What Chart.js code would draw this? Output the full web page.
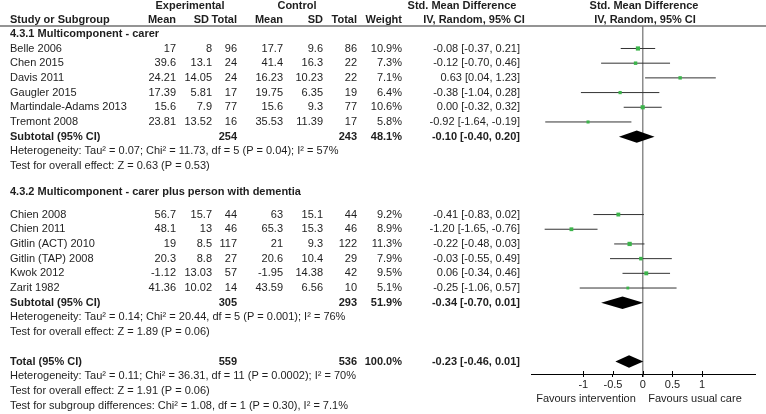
<!DOCTYPE html>
<html><head><meta charset="utf-8">
<script src="https://cdn.jsdelivr.net/npm/chart.js@4/dist/chart.umd.min.js"></script>
<style>html,body{margin:0;padding:0;background:#fff;}canvas{display:block;}</style>
</head><body>
<canvas id="c" width="766" height="414"></canvas>
<script>
// ---- data ----
const studies = ['Belle 2006','Chen 2015','Davis 2011','Gaugler 2015','Martindale-Adams 2013','Tremont 2008',
                 'Chien 2008','Chien 2011','Gitlin (ACT) 2010','Gitlin (TAP) 2008','Kwok 2012','Zarit 1982'];
const studyGroup = [1,1,1,1,1,1,2,2,2,2,2,2];
const expMean = ['17','39.6','24.21','17.39','15.6','23.81','56.7','48.1','19','20.3','-1.12','41.36'];
const expSD   = ['8','13.1','14.05','5.81','7.9','13.52','15.7','13','8.5','8.8','13.03','10.02'];
const expN    = [96,24,24,17,77,16,44,46,117,27,57,14];
const ctlMean = ['17.7','41.4','16.23','19.75','15.6','35.53','63','65.3','21','20.6','-1.95','43.59'];
const ctlSD   = ['9.6','16.3','10.23','6.35','9.3','11.39','15.1','15.3','9.3','10.4','14.38','6.56'];
const ctlN    = [86,22,22,19,77,17,44,46,122,29,42,10];
const weight  = [10.9,7.3,7.1,6.4,10.6,5.8,9.2,8.9,11.3,7.9,9.5,5.1];
const smd     = [-0.08,-0.12,0.63,-0.38,0.00,-0.92,-0.41,-1.20,-0.22,-0.03,0.06,-0.25];
const ciLow   = [-0.37,-0.70,0.04,-1.04,-0.32,-1.64,-0.83,-1.65,-0.48,-0.55,-0.34,-1.06];
const ciHigh  = [0.21,0.46,1.23,0.28,0.32,-0.19,0.02,-0.76,0.03,0.49,0.46,0.57];

const pooledLabels = ['Subtotal (95% CI)','Subtotal (95% CI)','Total (95% CI)'];
const pooledExpN = [254,305,559];
const pooledCtlN = [243,293,536];
const pooledWeight = ['48.1%','51.9%','100.0%'];
const pooledSmd = [-0.10,-0.34,-0.23];
const pooledLow = [-0.40,-0.70,-0.46];
const pooledHigh = [0.20,0.01,0.01];

const groupHeadings = ['4.3.1 Multicomponent - carer','4.3.2 Multicomponent - carer plus person with dementia'];
const groupNotes = [
  ['Heterogeneity: Tau\u00b2 = 0.07; Chi\u00b2 = 11.73, df = 5 (P = 0.04); I\u00b2 = 57%','Test for overall effect: Z = 0.63 (P = 0.53)'],
  ['Heterogeneity: Tau\u00b2 = 0.14; Chi\u00b2 = 20.44, df = 5 (P = 0.001); I\u00b2 = 76%','Test for overall effect: Z = 1.89 (P = 0.06)']
];
const totalNotes = ['Heterogeneity: Tau\u00b2 = 0.11; Chi\u00b2 = 36.31, df = 11 (P = 0.0002); I\u00b2 = 70%',
  'Test for overall effect: Z = 1.91 (P = 0.06)',
  'Test for subgroup differences: Chi\u00b2 = 1.08, df = 1 (P = 0.30), I\u00b2 = 7.1%'];
const xTicks = [-1,-0.5,0,0.5,1];
const favours = ['Favours intervention','Favours usual care'];

// ---- row layout (row units) ----
const rows = [];
let r = 0;
[1,2].forEach((g,gi)=>{
  if (gi===1) r += 0.75;
  rows.push({type:'heading', idx:gi, r:r}); r += (gi===1?1.55:1);
  studies.forEach((s,i)=>{ if(studyGroup[i]===g){ rows.push({type:'study',idx:i,r:r}); r+=1; } });
  rows.push({type:'pooled', idx:gi, r:r}); r+=1;
  rows.push({type:'note', text:groupNotes[gi][0], r:r}); r+=1;
  rows.push({type:'note', text:groupNotes[gi][1], r:r}); r+=1;
});
r += 1;
rows.push({type:'pooled', idx:2, r:r}); r+=1;
totalNotes.forEach(t=>{ rows.push({type:'note', text:t, r:r}); r+=1; });

const studyRow = {};
rows.forEach(o=>{ if(o.type==='study') studyRow[o.idx]=o.r; });

const ciData = [];
studies.forEach((s,i)=>{ ciData.push({x:ciLow[i],y:studyRow[i]},{x:ciHigh[i],y:studyRow[i]},{x:null,y:null}); });
const ptData = studies.map((s,i)=>({x:smd[i],y:studyRow[i]}));

const FONT = '"Liberation Sans", Arial, sans-serif';
const TXT = '#1e1e1e';
const cols = {name:10, em:176, esd:212, en:237, cm:283, csd:323, cn:357, w:402, ci:520};

function fmt(v){ return (v<0?'-':'') + Math.abs(v).toFixed(2); }

const tablePlugin = {
  id:'table',
  afterDraw(chart){
    const ctx = chart.ctx, ys = chart.scales.y, xs = chart.scales.x;
    ctx.save();
    ctx.textBaseline = 'middle';
    ctx.fillStyle = TXT;
    const put = (t,x,y,align,bold)=>{ ctx.font=(bold?'bold ':'')+'11px '+FONT; ctx.textAlign=align; ctx.fillText(t,x,y); };
    put('Experimental',190,6,'center',true);
    put('Control',297,6,'center',true);
    put('Std. Mean Difference',462,6,'center',true);
    put('Std. Mean Difference',644,6,'center',true);
    const h2 = 20;
    put('Study or Subgroup',cols.name,h2,'left',true);
    put('Mean',cols.em,h2,'right',true); put('SD',cols.esd-3,h2,'right',true); put('Total',cols.en,h2,'right',true);
    put('Mean',cols.cm,h2,'right',true); put('SD',cols.csd,h2,'right',true); put('Total',cols.cn,h2,'right',true);
    put('Weight',cols.w,h2,'right',true);
    put('IV, Random, 95% CI',474,h2,'center',true);
    put('IV, Random, 95% CI',645,h2,'center',true);
    ctx.strokeStyle='#707070'; ctx.lineWidth=1.5;
    ctx.beginPath(); ctx.moveTo(0,chart.chartArea.top); ctx.lineTo(766,chart.chartArea.top); ctx.stroke();
    rows.forEach(o=>{
      const y = ys.getPixelForValue(o.r);
      if(o.type==='heading') put(groupHeadings[o.idx],cols.name,y,'left',true);
      else if(o.type==='note') put(o.text,cols.name,y,'left',false);
      else if(o.type==='study'){
        const i=o.idx;
        put(studies[i],cols.name,y,'left',false);
        put(expMean[i],cols.em,y,'right'); put(expSD[i],cols.esd,y,'right'); put(String(expN[i]),cols.en,y,'right');
        put(ctlMean[i],cols.cm,y,'right'); put(ctlSD[i],cols.csd,y,'right'); put(String(ctlN[i]),cols.cn,y,'right');
        put(weight[i].toFixed(1)+'%',cols.w,y,'right');
        put(fmt(smd[i])+' ['+fmt(ciLow[i])+', '+fmt(ciHigh[i])+']',cols.ci,y,'right');
      } else if(o.type==='pooled'){
        const i=o.idx;
        put(pooledLabels[i],cols.name,y,'left',true);
        put(String(pooledExpN[i]),cols.en,y,'right',true);
        put(String(pooledCtlN[i]),cols.cn,y,'right',true);
        put(pooledWeight[i],cols.w,y,'right',true);
        put(fmt(pooledSmd[i])+' ['+fmt(pooledLow[i])+', '+fmt(pooledHigh[i])+']',cols.ci,y,'right',true);
        const xl=xs.getPixelForValue(pooledLow[i]), xm=xs.getPixelForValue(pooledSmd[i]), xh=xs.getPixelForValue(pooledHigh[i]);
        const hh = (ys.getPixelForValue(o.r+0.42)-y);
        ctx.fillStyle='#000';
        ctx.beginPath(); ctx.moveTo(xl,y); ctx.lineTo(xm,y-hh); ctx.lineTo(xh,y); ctx.lineTo(xm,y+hh); ctx.closePath(); ctx.fill();
        ctx.fillStyle=TXT;
      }
    });
    put(favours[0],586,399,'center',false);
    put(favours[1],695,399,'center',false);
    ctx.strokeStyle='#000'; ctx.lineWidth=1;
    xTicks.forEach(v=>{ const x=Math.round(xs.getPixelForValue(v))+0.5; ctx.beginPath(); ctx.moveTo(x,chart.chartArea.bottom-3); ctx.lineTo(x,chart.chartArea.bottom); ctx.stroke(); });
    ctx.restore();
  }
};

new Chart(document.getElementById('c'),{
  type:'scatter',
  data:{datasets:[
    {label:'CI', data:ciData, showLine:true, spanGaps:false, borderColor:'#333', borderWidth:1, pointRadius:0, order:2},
    {label:'SMD', data:ptData, pointStyle:'rect', backgroundColor:'#3cb44b', borderColor:'#3cb44b', borderWidth:0,
     pointRadius: studies.map((s,i)=>0.9*Math.sqrt(weight[i])), order:1}
  ]},
  options:{
    responsive:false, animation:false, devicePixelRatio:1,
    layout:{padding:{left:531,right:11,top:26,bottom:0}},
    plugins:{legend:{display:false},tooltip:{enabled:false}},
    scales:{
      x:{type:'linear',position:'bottom',min:-1.88,max:1.89,
         afterBuildTicks:(s)=>{ s.ticks = xTicks.map(v=>({value:v})); },
         afterFit:(s)=>{ s.height = 40; },
         ticks:{font:{family:FONT,size:11},color:'#222',padding:1,maxRotation:0,autoSkip:false,
                callback:(v)=>String(v)},
         grid:{drawOnChartArea:true,tickLength:3,tickColor:'#000',
               color:(c)=> (c.tick && c.tick.value===0) ? '#8c8c8c' : 'rgba(0,0,0,0)',
               lineWidth:(c)=> (c.tick && c.tick.value===0) ? 1.5 : 1},
         border:{display:true,color:'#000',width:1}},
      y:{type:'linear',reverse:true,min:-0.53,max:23.15,display:false}
    }
  },
  plugins:[tablePlugin]
});
</script>
</body></html>
